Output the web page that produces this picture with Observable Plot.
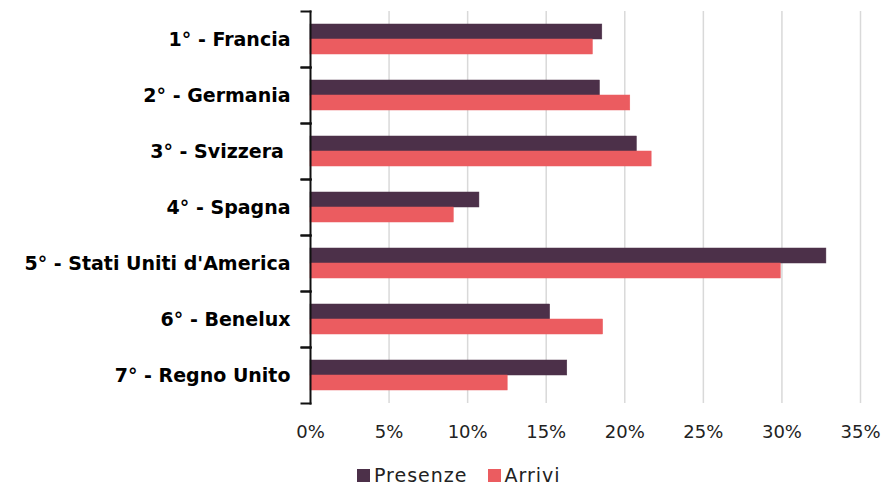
<!DOCTYPE html>
<html>
<head>
<meta charset="utf-8">
<script src="https://cdn.jsdelivr.net/npm/d3@7"></script>
<script src="https://cdn.jsdelivr.net/npm/@observablehq/plot@0.6"></script>
<style>
  html, body { margin: 0; padding: 0; background: #fff; }
  body { width: 894px; height: 489px; overflow: hidden; font-family: "DejaVu Sans", sans-serif; }
  #legend { position: absolute; left: 357px; top: 464px; display: flex; gap: 20px; font-size: 19px; color: #222; letter-spacing: 1px; }
  .item { display: flex; align-items: center; }
  .sw { width: 13px; height: 13px; margin-right: 4px; display: inline-block; }
</style>
</head>
<body>
<div id="chart"></div>
<div id="legend"></div>
<script>
const countries = ["1° - Francia", "2° - Germania", "3° - Svizzera\u00a0", "4° - Spagna", "5° - Stati Uniti d'America", "6° - Benelux", "7° - Regno Unito"];
const seriesNames = ["Presenze", "Arrivi"];
const seriesColors = ["#4c3049", "#eb5c60"];
const presenze = [18.57, 18.42, 20.77, 10.75, 32.83, 15.25, 16.34];
const arrivi = [17.97, 20.35, 21.71, 9.12, 29.93, 18.62, 12.55];
const xTicks = [0, 5, 10, 15, 20, 25, 30, 35];

const data = [];
countries.forEach((c, i) => {
  data.push({country: c, series: seriesNames[0], value: presenze[i]});
  data.push({country: c, series: seriesNames[1], value: arrivi[i]});
});

const W = 894, ML = 310, MR = 34;
const chart = Plot.plot({
  width: W,
  height: 450,
  marginLeft: ML,
  marginRight: MR,
  marginTop: 8,
  marginBottom: 45,
  style: {fontFamily: "DejaVu Sans, sans-serif", background: "#fff"},
  x: {domain: [0, 35], axis: null},
  y: {domain: seriesNames, paddingInner: 0, paddingOuter: 0.83, axis: null},
  fy: {domain: countries, padding: 0, axis: null},
  color: {domain: seriesNames, range: seriesColors},
  facet: {data, y: "country"},
  marks: [
    Plot.gridX(xTicks.filter(d => d > 0), {stroke: "#d9d9d9", strokeOpacity: 1, strokeWidth: 1.5}),
    Plot.barX(data, {x: "value", y: "series", fill: "series", stroke: "series", strokeWidth: 0.5}),
    Plot.frame({anchor: "left", stroke: "#111", strokeWidth: 2}),
    Plot.frame({anchor: "top", stroke: "#111", strokeWidth: 2, insetLeft: -9, insetRight: W - ML - MR}),
    Plot.frame({anchor: "bottom", stroke: "#111", strokeWidth: 2, insetLeft: -9, insetRight: W - ML - MR}),
    Plot.axisFy({anchor: "left", tickSize: 0, tickPadding: 20, label: null, fontSize: 19, fontWeight: "bold", fill: "#000", letterSpacing: 0.4}),
    Plot.axisX({ticks: xTicks, tickFormat: d => d + "%", tickSize: 0, tickPadding: 22, label: null, fontSize: 18, fill: "#222", letterSpacing: 0.3})
  ]
});
document.getElementById("chart").appendChild(chart);

const legend = document.getElementById("legend");
seriesNames.forEach((n, i) => {
  const it = document.createElement("div");
  it.className = "item";
  const sw = document.createElement("span");
  sw.className = "sw";
  sw.style.background = seriesColors[i];
  it.appendChild(sw);
  it.appendChild(document.createTextNode(n));
  legend.appendChild(it);
});
</script>
</body>
</html>
